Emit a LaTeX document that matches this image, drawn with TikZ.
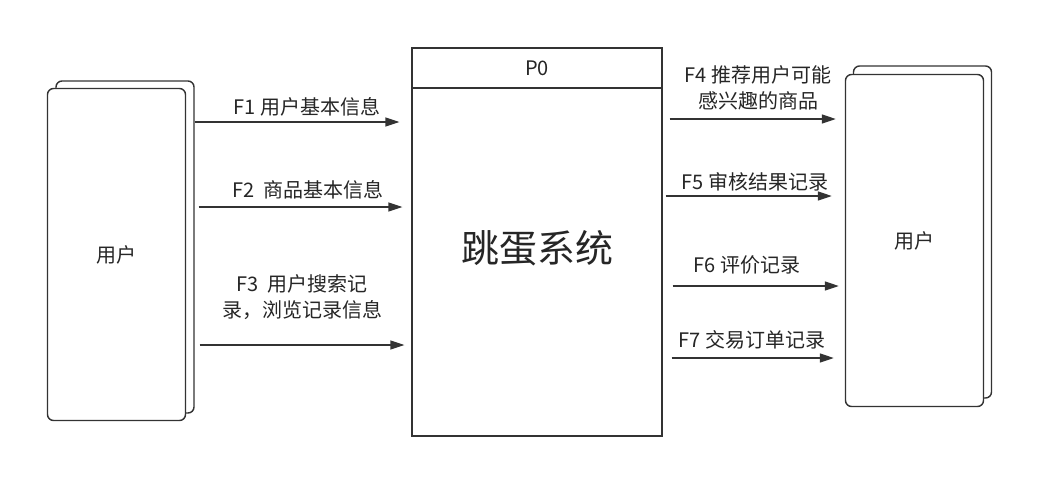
\documentclass[tikz,border=0pt]{standalone}
\usepackage{fontspec}
\setmainfont{Noto Sans CJK SC}
\usepackage{tikz}
\usetikzlibrary{calc,positioning,arrows.meta}
\definecolor{DfdLine}{HTML}{333333}
\definecolor{DfdText}{HTML}{262626}

\begin{document}
\begin{tikzpicture}[x=1pt,y=-1pt,font=\fontsize{20pt}{26pt}\selectfont,text=DfdText,
      ent/.style={draw=DfdLine,fill=white,line width=1.4pt,rounded corners=6pt,minimum width=138pt,minimum height=332pt,inner sep=0pt},
      proc/.style={draw=DfdLine,fill=white,line width=1.3pt,minimum width=250pt,inner sep=0pt},
      lbl/.style={align=center,inner sep=0pt},
      arr/.style={-{Triangle[length=14pt,width=9pt]},line width=1.4pt,color=DfdLine}]
      \useasboundingbox[fill=white] (0,0) rectangle (1053,499);
      % external entities
      \node[ent] (uLb) at (125,247) {};
      \node[ent] (uLf) at (116.5,254.5) {用户};
      \node[ent] (uRb) at (922.5,232) {};
      \node[ent] (uRf) at (914.5,240.5) {用户};
      % process
      \node[proc,minimum height=40pt] (hd) at (537,68) {P0};
      \node[proc,minimum height=348pt] (p0) at (537,262) {};
      \node[lbl,font=\fontsize{38pt}{40pt}\selectfont] (t0) at (537,248) {跳蛋系统};
      % flows in
      \node[lbl] (l1) at (307,107) {F1 用户基本信息};
      \node[lbl] (l2) at (308,190) {F2\ \ 商品基本信息};
      \node[lbl] (l3) at (302,297) {F3\ \ 用户搜索记\\录，浏览记录信息};
      \draw[arr] (uLb.east |- 0,122) -- ([xshift=-12pt]p0.west |- 0,122);
      \draw[arr] ([xshift=4pt]uLb.east |- 0,207) -- ([xshift=-9pt]p0.west |- 0,207);
      \draw[arr] ([xshift=5pt]uLb.east |- 0,345) -- ([xshift=-7pt]p0.west |- 0,345);
      % flows out
      \node[lbl] (l4) at (758,88) {F4 推荐用户可能\\感兴趣的商品};
      \node[lbl] (l5) at (755,182) {F5 审核结果记录};
      \node[lbl] (l6) at (747,265) {F6 评价记录};
      \node[lbl] (l7) at (752,340) {F7 交易订单记录};
      \draw[arr] ([xshift=7pt]p0.east |- 0,119) -- ([xshift=-9pt]uRf.west |- 0,119);
      \draw[arr] ([xshift=3pt]p0.east |- 0,196) -- ([xshift=-13pt]uRf.west |- 0,196);
      \draw[arr] ([xshift=10pt]p0.east |- 0,286) -- ([xshift=-6pt]uRf.west |- 0,286);
      \draw[arr] ([xshift=9pt]p0.east |- 0,358) -- ([xshift=-11pt]uRf.west |- 0,358);
    \end{tikzpicture}
\end{document}
